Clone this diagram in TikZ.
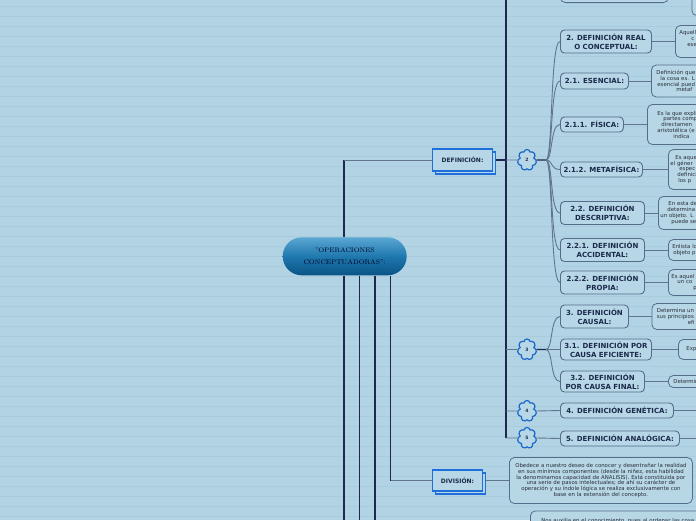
\documentclass[tikz,border=0pt]{standalone}
\usepackage{fontspec}
\newfontfamily\djv{DejaVu Sans}
\usetikzlibrary{shapes.symbols}
\definecolor{bg}{HTML}{B1D3E3}
\definecolor{bgline}{HTML}{A9CCDD}
\definecolor{nodefill}{HTML}{B7D6E6}
\definecolor{nodedraw}{HTML}{566D8A}
\definecolor{navy}{HTML}{1C2850}
\definecolor{conncol}{HTML}{61758F}
\definecolor{txt}{HTML}{1B2A4A}
\definecolor{desctxt}{HTML}{2A2F3A}
\definecolor{blueb}{HTML}{1E6FDB}
\definecolor{cloudc}{HTML}{1B68C8}
\definecolor{pilltop}{HTML}{5AA7D3}
\definecolor{pillmid}{HTML}{1F78AE}
\definecolor{pillbot}{HTML}{0A5485}
\begin{document}
\begin{tikzpicture}[x=1pt,y=-1pt,
  conn/.style={draw=conncol, line width=0.9pt},
  navyline/.style={draw=navy, line width=1.4pt},
  lvl/.style={draw=nodedraw, fill=nodefill, line width=0.9pt, rounded corners=4pt,
    font=\djv\fontsize{7}{8.8}\selectfont\bfseries, text=txt, align=center,
    inner sep=0pt, anchor=west},
  desc/.style={draw=nodedraw, fill=nodefill, line width=0.8pt, rounded corners=5pt,
    font=\djv\fontsize{5.4}{5.75}\selectfont, text=desctxt, align=left,
    inner xsep=2pt, inner ysep=0pt, anchor=west, text width=70pt},
  divdesc/.style={desc, align=center, text width=179pt, minimum height=46pt},
  emptybox/.style={draw=nodedraw, fill=nodefill, line width=0.8pt, rounded corners=5pt, inner sep=0pt},
  topic/.style={draw=blueb, fill=nodefill, line width=1.1pt, inner sep=0pt,
    font=\djv\fontsize{6}{7}\selectfont\bfseries, text=txt},
  cloudn/.style={cloud, cloud puffs=7, cloud puff arc=160, aspect=0.85, draw=cloudc,
    line width=1.2pt, fill=nodefill, minimum width=19pt, minimum height=21pt, inner sep=0pt,
    font=\djv\fontsize{4.5}{5}\selectfont\bfseries, text=txt},
  curv/.style={conn, out=0, in=180, out distance=7pt, in distance=10pt}
]
\useasboundingbox (0,0) rectangle (696,520);
\clip (0,0) rectangle (696,520);
\fill[bg] (0,0) rectangle (696,520);
\foreach \yy in {6,16,...,516} \draw[bgline, line width=0.7pt] (0,\yy) -- (696,\yy);

% central topic
\node[rounded corners=19pt, minimum width=124pt, minimum height=38pt, inner sep=0pt,
  top color=pilltop, bottom color=pillbot, middle color=pillmid, align=center,
  font=\fontsize{6.7}{11.5}\selectfont, text=black!85!blue] (cen) at (344.7,256.3)
  {"OPERACIONES\\CONCEPTUADORAS":};

% main topics
\node[topic, minimum width=60pt, minimum height=22pt] (defsh) at (465.5,163) {};
\node[topic, minimum width=60pt, minimum height=22pt] (def) at (462.5,160) {DEFINICIÓN:};
\node[topic, minimum width=50pt, minimum height=21pt] (divsh) at (460.5,483.5) {};
\node[topic, minimum width=50pt, minimum height=21pt] (div) at (457.5,480.5) {DIVISIÓN:};

% clouds
\node[cloudn] (c2) at (527,160) {2};
\node[cloudn] (c3) at (527,349.5) {3};
\node[cloudn] (c4) at (527,411) {4};
\node[cloudn] (c5) at (527,438) {5};

% partially visible boxes at the top
\node[emptybox, minimum width=108pt, minimum height=30pt, anchor=south west] (topA) at (560,3) {};
\node[emptybox, minimum width=40pt, minimum height=40pt, anchor=south west] (topB) at (691.5,16) {};

% subtopics
\node[lvl, minimum width=91pt, minimum height=23pt] (n2) at (560,41.5) {2. DEFINICIÓN REAL\\O CONCEPTUAL:};
\node[lvl, minimum width=68pt, minimum height=16pt] (n21) at (560,81) {2.1. ESENCIAL:};
\node[lvl, minimum width=63pt, minimum height=15pt] (n211) at (560,124.5) {2.1.1. FÍSICA:};
\node[lvl, minimum width=82pt, minimum height=15pt] (n212) at (560,169.5) {2.1.2. METAFÍSICA:};
\node[lvl, minimum width=84pt, minimum height=23pt] (n22) at (560,213) {2.2. DEFINICIÓN\\DESCRIPTIVA:};
\node[lvl, minimum width=84pt, minimum height=23pt] (n221) at (560,250) {2.2.1. DEFINICIÓN\\ACCIDENTAL:};
\node[lvl, minimum width=84pt, minimum height=23pt] (n222) at (560,282.5) {2.2.2. DEFINICIÓN\\PROPIA:};
\node[lvl, minimum width=68pt, minimum height=23pt] (n3) at (560,316.5) {3. DEFINICIÓN\\CAUSAL:};
\node[lvl, minimum width=91pt, minimum height=21pt] (n31) at (560,349.5) {3.1. DEFINICIÓN POR\\CAUSA EFICIENTE:};
\node[lvl, minimum width=84pt, minimum height=21pt] (n32) at (560,381.5) {3.2. DEFINICIÓN\\POR CAUSA FINAL:};
\node[lvl, minimum width=113pt, minimum height=15pt] (n4) at (560,410.5) {4. DEFINICIÓN GENÉTICA:};
\node[lvl, minimum width=119pt, minimum height=15pt] (n5) at (560,438.5) {5. DEFINICIÓN ANALÓGICA:};

% descriptions
\node[desc, minimum height=32pt] (d2) at (675,41.5) {\hspace*{2pt}Aquell\\\hspace*{14pt}c\\\hspace*{10pt}ese\\\mbox{}};
\node[desc, minimum height=32pt] (d21) at (651,81) {\hspace*{3pt}Definición que\\\hspace*{7pt}la cosa es. L\\\hspace*{4pt}esencial pued\\\hspace*{23pt}metaf};
\node[desc, minimum height=40pt] (d211) at (647,124.5) {\hspace*{8pt}Es la que expli\\\hspace*{14pt}partes comp\\\hspace*{12pt}directamen\\\hspace*{8pt}aristotélica (e\\\hspace*{24pt}indica};
\node[desc, minimum height=40pt] (d212) at (668,169.5) {\hspace*{5pt}Es aque\\el géner\\\hspace*{9pt}espec\\\hspace*{7pt}definici\\\hspace*{8pt}los p};
\node[desc, minimum height=33pt] (d22) at (658,213) {\hspace*{8pt}En esta de\\\hspace*{7pt}determina\\un objeto. L\\\hspace*{11pt}puede se};
\node[desc, minimum height=21pt] (d221) at (668,250) {\hspace*{2pt}Enlista lo\\\hspace*{3pt}objeto p};
\node[desc, minimum height=26pt] (d222) at (668,282.5) {\hspace*{1pt}Es aquel\\\hspace*{7pt}un co\\\hspace*{23pt}p};
\node[desc, minimum height=26pt] (d3) at (651.5,316.5) {\hspace*{3pt}Determina un\\\hspace*{3pt}sus principios\\\hspace*{34pt}efi};
\node[desc, minimum height=20pt] (d31) at (678,349.5) {\hspace*{6pt}Exp};
\node[desc, minimum height=12pt] (d32) at (668,381.5) {\hspace*{3pt}Determin};
\node[divdesc] (dDiv) at (509,480.5) {Obedece a nuestro deseo de conocer y desentrañar la realidad\\en sus mínimos componentes (desde la niñez, esta habilidad\\la denominamos capacidad de ANALISIS). Está constituida por\\una serie de pasos intelectuales; de ahí su carácter de\\operación y su índole lógica se realiza exclusivamente con\\base en la extensión del concepto.};
\node[desc, align=left, text width=220pt, inner xsep=11pt, inner ysep=0.5pt, anchor=north west, minimum height=20pt] (dNos) at (530,510.5) {Nos auxilia en el conocimiento, pues al ordenar las cosa};

% coordinates
\coordinate (cUp) at (344,160);
\coordinate (cB1) at (344,520);
\coordinate (cB2) at (359.5,520);
\coordinate (cB3) at (375,520);
\coordinate (cB4) at (390.5,480.5);
\coordinate (vTop) at (506,0);
\coordinate (v2) at (506,160);
\coordinate (v3) at (506,349.5);
\coordinate (v4) at (506,411);
\coordinate (vBot) at (506,438);
\coordinate (b2) at (546,160);
\coordinate (b3) at (546,349.5);
\coordinate (e4) at (696,410.5);
\coordinate (e5) at (696,438.5);

% trunk lines
\draw[navyline] (cen.north -| cUp) -- (cUp);
\draw[conn] (cUp) -- (cUp -| def.west);
\draw[navyline] (cen.south -| cB1) -- (cB1);
\draw[navyline] (cen.south -| cB2) -- (cB2);
\draw[navyline] (cen.south -| cB3) -- (cB3);
\draw[navyline] (cen.south -| cB4) -- (cB4);
\draw[conn] (cB4) -- (div.west);
\draw[conn] (divsh.east |- div.east) -- (dDiv.west);

% vertical spine of DEFINICIÓN
\draw[navyline, line width=1.1pt] (vTop) -- (vBot);
\draw[navyline] (defsh.east |- v2) -- (v2);
\draw[conn] (v2) -- (c2.west);
\draw[conn] (v3) -- (c3.west);
\draw[conn] (v4) -- (c4.west);
\draw[conn] (vBot) -- (c5.west);

% cloud 2 branches
\draw[navyline] (c2.east) -- (b2);
\foreach \t in {n2,n21,n211,n212,n22,n221,n222} \draw[curv] (b2) to (\t.west);
% cloud 3 branches
\draw[navyline] (c3.east) -- (b3);
\foreach \t in {n3,n31,n32} \draw[curv] (b3) to (\t.west);
\draw[conn] (c4.east) -- (n4.west);
\draw[conn] (c5.east) -- (n5.west);

% node to description
\draw[conn] (n2.east) -- (d2.west);
\draw[conn] (n21.east) -- (d21.west);
\draw[conn] (n211.east) -- (d211.west);
\draw[conn] (n212.east) -- (d212.west);
\draw[conn] (n22.east) -- (d22.west);
\draw[conn] (n221.east) -- (d221.west);
\draw[conn] (n222.east) -- (d222.west);
\draw[conn] (n3.east) -- (d3.west);
\draw[conn] (n31.east) -- (d31.west);
\draw[conn] (n32.east) -- (d32.west);
\draw[conn] (n4.east) -- (e4);
\draw[conn] (n5.east) -- (e5);
\end{tikzpicture}
\end{document}
